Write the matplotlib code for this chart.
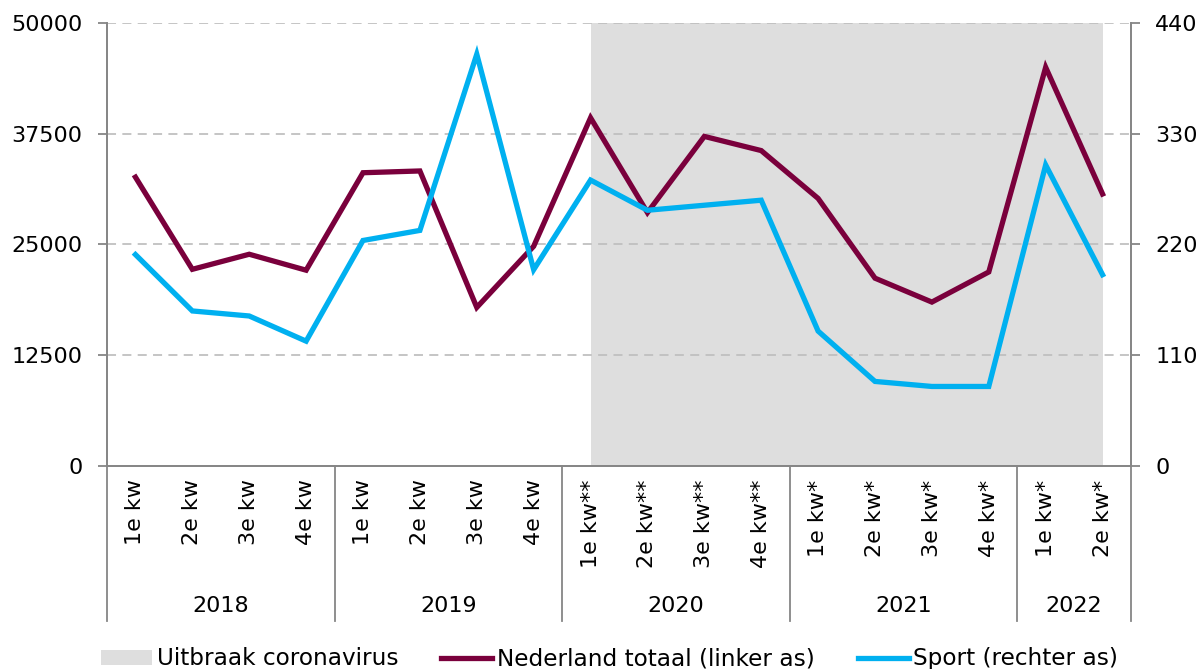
import matplotlib
matplotlib.use("Agg")
import matplotlib.pyplot as plt
import matplotlib.transforms as mtransforms
from matplotlib.lines import Line2D
from matplotlib.patches import Patch

plt.rcParams['font.family'] = ['DejaVu Sans']

years = ["2018", "2019", "2020", "2021", "2022"]
quarter_labels = ["1e kw", "2e kw", "3e kw", "4e kw",
                  "1e kw", "2e kw", "3e kw", "4e kw",
                  "1e kw**", "2e kw**", "3e kw**", "4e kw**",
                  "1e kw*", "2e kw*", "3e kw*", "4e kw*",
                  "1e kw*", "2e kw*"]
quarters_per_year = [4, 4, 4, 4, 2]

nederland = [32600, 22200, 23900, 22100, 33100, 33300, 17900, 24800,
             39300, 28600, 37200, 35600, 30200, 21200, 18500, 21900,
             45000, 30700]
sport = [210, 154, 149, 124, 224, 234, 409, 195,
         284, 254, 259, 264, 134, 84, 79, 79,
         299, 190]

left_ticks = [0, 12500, 25000, 37500, 50000]
right_ticks = [0, 110, 220, 330, 440]
corona_start, corona_end = 8, 17

maroon = "#7a003c"
blue = "#00b0f0"
grey_fill = "#dedede"
axis_grey = "#868686"
fs = 16

fig = plt.figure(figsize=(12.03, 6.69), dpi=100)
ax = fig.add_axes([107 / 1203, 1 - 466 / 669, (1131 - 107) / 1203, (466 - 23) / 669])
ax2 = ax.twinx()

x = list(range(len(quarter_labels)))

ax.axvspan(corona_start, corona_end, color=grey_fill, zorder=0, lw=0)
ax.set_xlim(-0.5, len(x) - 0.5)
ax.set_ylim(0, 50000)
ax.set_yticks(left_ticks)
ax.set_yticklabels([str(t) for t in left_ticks])
for t in left_ticks[1:]:
    ax.axhline(t, color="#c0c0c0", lw=1.3, ls=(0, (5, 3.5)), zorder=1)

ax.plot(x, nederland, color=maroon, lw=3.8, solid_joinstyle="miter", zorder=3)

ax2.set_ylim(0, 440)
ax2.set_yticks(right_ticks)
ax2.set_yticklabels([str(t) for t in right_ticks])
ax2.plot(x, sport, color=blue, lw=3.8, solid_joinstyle="miter", zorder=4)

for a in (ax, ax2):
    a.spines['top'].set_visible(False)
    for side in ('left', 'right', 'bottom'):
        a.spines[side].set_color(axis_grey)
        a.spines[side].set_linewidth(1.3)
    a.tick_params(axis='y', length=6.5, width=1.3, color=axis_grey,
                  labelsize=fs, pad=11)
ax.set_xticks([])
ax2.set_xticks([])

# Category axis: quarter labels and year groups
trans = mtransforms.blended_transform_factory(ax.transData, ax.transAxes)
for i, lab in enumerate(quarter_labels):
    ax.text(i, -0.03, lab, rotation=90, ha="center", va="top",
            fontsize=fs, transform=trans)

bounds = [-0.5]
for n in quarters_per_year:
    bounds.append(bounds[-1] + n)
for b in bounds:
    ax.plot([b, b], [0, -0.35], color=axis_grey, lw=1.3,
            transform=trans, clip_on=False)
for yr, b0, b1 in zip(years, bounds[:-1], bounds[1:]):
    ax.text((b0 + b1) / 2, -0.315, yr, ha="center", va="center",
            fontsize=fs, transform=trans)

handles = [Patch(facecolor=grey_fill, edgecolor="none"),
           Line2D([], [], color=maroon, lw=3.8),
           Line2D([], [], color=blue, lw=3.8)]
labels = ["Uitbraak coronavirus", "Nederland totaal (linker as)", "Sport (rechter as)"]
fig.legend(handles, labels, loc="lower left", bbox_to_anchor=(92 / 1203, -0.016),
           ncol=3, frameon=False, fontsize=16.7, handlelength=2.2,
           handleheight=0.6, handletextpad=0.2, columnspacing=1.85,
           borderaxespad=0)

fig.savefig("out.png", dpi=100)
